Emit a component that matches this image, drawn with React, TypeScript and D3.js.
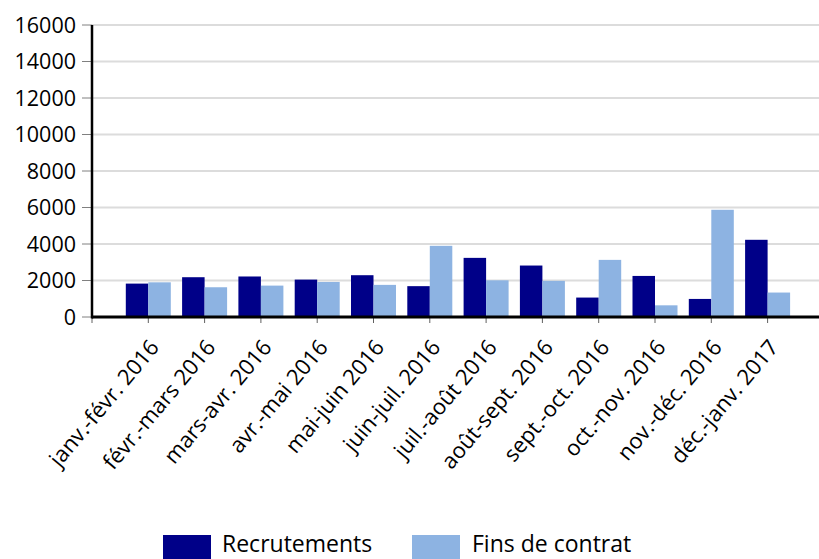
import React, { useEffect, useRef } from 'react'
import * as d3 from 'd3'

const categories = [
  'janv.-févr. 2016', 'févr.-mars 2016', 'mars-avr. 2016', 'avr.-mai 2016',
  'mai-juin 2016', 'juin-juil. 2016', 'juil.-août 2016', 'août-sept. 2016',
  'sept.-oct. 2016', 'oct.-nov. 2016', 'nov.-déc. 2016', 'déc.-janv. 2017',
]
const recrutements = [1830, 2180, 2220, 2050, 2290, 1690, 3240, 2820, 1065, 2250, 990, 4230]
const finsDeContrat = [1900, 1630, 1720, 1920, 1760, 3900, 2010, 1980, 3130, 640, 5875, 1340]
const yTicks = [0, 2000, 4000, 6000, 8000, 10000, 12000, 14000, 16000]
const seriesNames = ['Recrutements', 'Fins de contrat']
const colors = ['#000088', '#8db3e2']

const W = 819
const H = 559
const FONT = '"Open Sans", sans-serif'

export default function App() {
  const ref = useRef<SVGSVGElement>(null)

  useEffect(() => {
    const svg = d3.select(ref.current)
    svg.selectAll('*').remove()

    const left = 92, top = 25, bottom = 317
    const step = 56.3
    // one empty slot before the first category, plot runs off the right edge
    const x = d3.scaleLinear().domain([0, 13]).range([left, left + 13 * step])
    const y = d3.scaleLinear().domain([0, 16000]).range([bottom, top])
    const barW = 22.5

    // gridlines
    svg.append('g')
      .selectAll('line')
      .data(yTicks.slice(1))
      .join('line')
      .attr('x1', left).attr('x2', W)
      .attr('y1', d => y(d)).attr('y2', d => y(d))
      .attr('stroke', '#dcdcdc').attr('stroke-width', 2)

    // y ticks + labels
    const ya = svg.append('g')
    ya.selectAll('line')
      .data(yTicks)
      .join('line')
      .attr('x1', left - 10).attr('x2', left)
      .attr('y1', d => y(d)).attr('y2', d => y(d))
      .attr('stroke', '#808080').attr('stroke-width', 1)
    ya.selectAll('text')
      .data(yTicks)
      .join('text')
      .attr('x', left - 16)
      .attr('y', d => y(d))
      .attr('dy', '0.36em')
      .attr('text-anchor', 'end')
      .attr('font-family', FONT)
      .attr('font-size', 21.5)
      .attr('fill', '#000')
      .text(d => d)

    // bars
    const series = [recrutements, finsDeContrat]
    series.forEach((vals, s) => {
      svg.append('g')
        .selectAll('rect')
        .data(vals)
        .join('rect')
        .attr('x', (_, i) => x(i + 1) - barW + s * barW)
        .attr('y', d => y(d))
        .attr('width', barW)
        .attr('height', d => bottom - y(d))
        .attr('fill', colors[s])
    })

    // x ticks
    svg.append('g')
      .selectAll('line')
      .data(d3.range(0, 13))
      .join('line')
      .attr('x1', i => x(i)).attr('x2', i => x(i))
      .attr('y1', bottom).attr('y2', bottom + 6)
      .attr('stroke', '#606060').attr('stroke-width', 1)

    // axes lines
    svg.append('line')
      .attr('x1', left).attr('x2', left)
      .attr('y1', top).attr('y2', bottom + 1.5)
      .attr('stroke', '#000').attr('stroke-width', 2.5)
    svg.append('line')
      .attr('x1', left).attr('x2', W)
      .attr('y1', bottom).attr('y2', bottom)
      .attr('stroke', '#000').attr('stroke-width', 3)

    // x labels
    svg.append('g')
      .selectAll('text')
      .data(categories)
      .join('text')
      .attr('transform', (_, i) => `translate(${x(i + 1) + 6},${bottom + 26}) rotate(-50)`)
      .attr('text-anchor', 'end')
      .attr('dy', '0.35em')
      .attr('font-family', FONT)
      .attr('font-size', 22)
      .attr('fill', '#000')
      .text(d => d)

    // legend
    const lg = svg.append('g')
    const items = [
      { x: 163, tx: 222 },
      { x: 412, tx: 472 },
    ]
    items.forEach((it, s) => {
      lg.append('rect')
        .attr('x', it.x).attr('y', 535)
        .attr('width', 48).attr('height', 30)
        .attr('fill', colors[s])
      lg.append('text')
        .attr('x', it.tx).attr('y', 552)
        .attr('font-family', FONT)
        .attr('font-size', 23)
        .attr('fill', '#000')
        .text(seriesNames[s])
    })
  }, [])

  return (
    <svg
      ref={ref}
      width={W}
      height={H}
      style={{ position: 'absolute', left: 0, top: 0, background: '#fff' }}
    />
  )
}
